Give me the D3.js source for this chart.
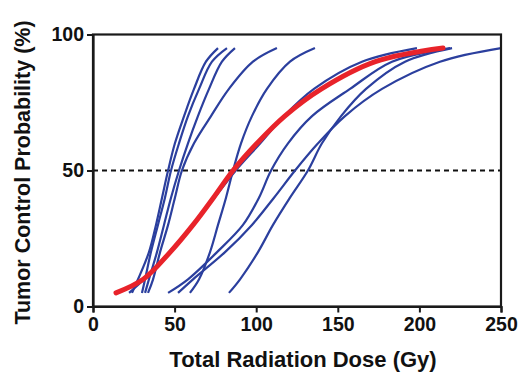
<!DOCTYPE html>
<html lang="en">
<head>
    <meta charset="UTF-8">
    <title>Tumor Control Probability</title>
    <script src="https://d3js.org/d3.v7.min.js"></script>
    <style>
        body { margin: 0; background: #fff; }
        text { font-family: "Liberation Sans", Arial, sans-serif; font-weight: bold; fill: #111; }
    </style>
</head>
<body>
    <svg id="chart" width="521" height="373"></svg>

    <script>
        const tcpLevels = [5, 10, 20, 30, 40, 50, 60, 70, 80, 90, 95];

        // dose (Gy) of each blue curve at those levels
        const blue1 = [23.9, 27.6, 34.3, 38.6, 42.3, 46.0, 50.2, 55.8, 61.9, 69.2, 76.6];
        const blue2 = [30.0, 31.9, 35.5, 39.8, 44.1, 47.8, 52.7, 58.2, 65.0, 72.9, 82.1];
        const blue3 = [31.9, 34.3, 39.2, 43.5, 47.8, 52.7, 58.2, 64.3, 71.1, 79.0, 87.0];
        const blue4 = [33.7, 36.8, 41.1, 46.0, 50.2, 54.5, 61.9, 72.3, 83.3, 98.0, 112.7];
        const blue5 = [59.4, 65.0, 71.7, 76.6, 81.5, 85.8, 90.7, 97.4, 106.6, 120.7, 136.0];
        const blue6 = [22.1, 31.3, 46.6, 61.5, 74.5, 87.5, 102.5, 117.0, 135.4, 164.8, 198.5];
        const blue7 = [46.0, 58.2, 76.0, 91.9, 101.7, 109.1, 119.5, 134.2, 157.5, 183.2, 218.8];
        const blue8 = [52.1, 61.3, 80.9, 97.4, 110.9, 123.8, 137.9, 154.4, 177.1, 212.6, 250.0];
        const blue9 = [83.3, 90.1, 101.1, 110.3, 120.7, 131.7, 140.3, 152.0, 167.3, 191.2, 220.0];

        // population curve (red)
        const population = [14.1, 30.8, 47.3, 61.3, 73.8, 85.8, 100.5, 117.5, 140.0, 173.0, 214.5];

        const xTicks = [0, 50, 100, 150, 200, 250];
        const yTicks = [0, 50, 100];

        const blueCurves = [blue1, blue2, blue3, blue4, blue5, blue6, blue7, blue8, blue9];

        const margin = { left: 93, right: 20, top: 34.5, bottom: 66.5 };
        const width = 521 - margin.left - margin.right;
        const height = 373 - margin.top - margin.bottom;

        const svg = d3.select("#chart");
        const g = svg.append("g")
            .attr("transform", `translate(${margin.left},${margin.top})`);

        const x = d3.scaleLinear().domain([0, 250]).range([0, width]);
        const y = d3.scaleLinear().domain([0, 100]).range([height, 0]);

        const line = d3.line()
            .x(d => x(d[0]))
            .y(d => y(d[1]))
            .curve(d3.curveCatmullRom.alpha(0.5));

        const toPoints = doses => doses.map((dose, i) => [dose, tcpLevels[i]]);

        // 50% reference line
        g.append("line")
            .attr("x1", 0)
            .attr("x2", width)
            .attr("y1", y(50))
            .attr("y2", y(50))
            .attr("stroke", "#111")
            .attr("stroke-width", 2)
            .attr("stroke-dasharray", "5,4");

        g.selectAll(".blue")
            .data(blueCurves)
            .enter().append("path")
            .attr("class", "blue")
            .attr("d", d => line(toPoints(d)))
            .attr("fill", "none")
            .attr("stroke", "#2b3f9e")
            .attr("stroke-width", 2.2);

        g.append("path")
            .attr("d", line(toPoints(population)))
            .attr("fill", "none")
            .attr("stroke", "#e8232a")
            .attr("stroke-width", 5)
            .attr("stroke-linecap", "round");

        // frame
        g.append("rect")
            .attr("width", width)
            .attr("height", height)
            .attr("fill", "none")
            .attr("stroke", "#1a1a1a")
            .attr("stroke-width", 2.2);

        const xAxis = g.append("g")
            .attr("transform", `translate(0,${height})`)
            .call(d3.axisBottom(x).tickValues(xTicks).tickSize(6).tickPadding(5));

        const yAxis = g.append("g")
            .call(d3.axisLeft(y).tickValues(yTicks).tickSize(6).tickPadding(3));

        [xAxis, yAxis].forEach(a => {
            a.select(".domain").attr("stroke", "#1a1a1a").attr("stroke-width", 2.2);
            a.selectAll(".tick line").attr("stroke", "#1a1a1a").attr("stroke-width", 2);
            a.selectAll(".tick text")
                .style("font-family", "'Liberation Sans', Arial, sans-serif")
                .style("font-weight", "bold")
                .style("font-size", "19.5px")
                .attr("fill", "#111");
        });

        svg.append("text")
            .attr("x", margin.left + width / 2 + 6)
            .attr("y", 367)
            .attr("text-anchor", "middle")
            .style("font-size", "22px")
            .text("Total Radiation Dose (Gy)");

        svg.append("text")
            .attr("transform", `translate(30,${margin.top + height / 2 + 2}) rotate(-90)`)
            .attr("text-anchor", "middle")
            .style("font-size", "21.5px")
            .text("Tumor Control Probability (%)");
    </script>
</body>
</html>
